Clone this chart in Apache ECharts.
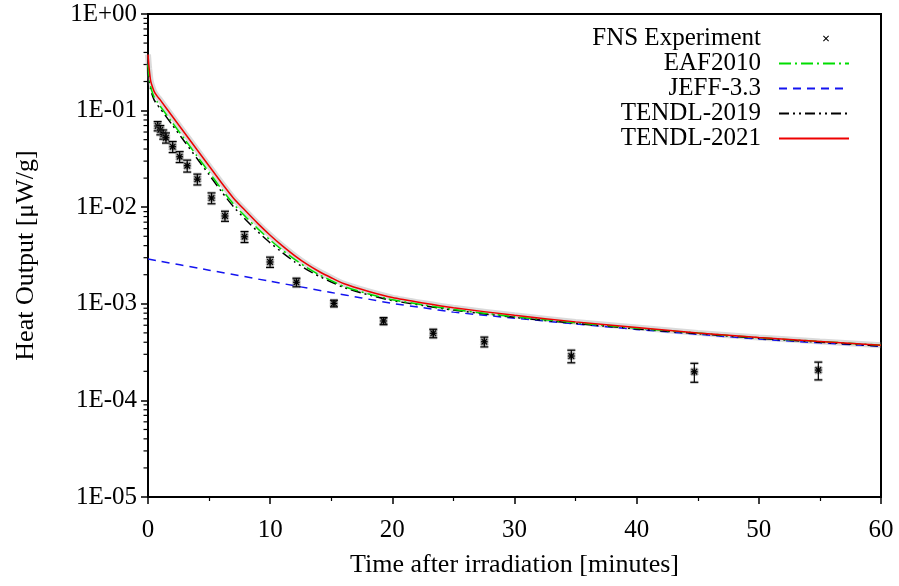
<!DOCTYPE html>
<html>
<head>
<meta charset="utf-8">
<script src="https://cdn.jsdelivr.net/npm/echarts@6/dist/echarts.min.js"></script>
<style>html,body{margin:0;padding:0;background:#fff}#c{width:899px;height:586px}</style>
</head>
<body>
<div id="c"></div>
<script>
// ---- data ----
const curveTime = [0,0.05,0.1,0.2,0.3,0.5,0.75,1,2,3,4,5,6,7,8,9,10,11,12,13,14,15,16,18,20,22.5,25,30,35,40,45,50,55,60];
const tendl2021 = [0.380,0.316,0.269,0.209,0.186,0.158,0.141,0.129,0.0869,0.0586,0.0395,0.0267,0.0180,0.0124,0.00912,0.00676,0.00513,0.00398,0.00316,0.00257,0.00216,0.00186,0.00162,0.00135,0.00116,0.00102,0.00091,0.00076,0.00065,0.00057,0.00050,0.000447,0.000407,0.000372];
const eaf2010 = [0.300,0.251,0.219,0.182,0.162,0.138,0.123,0.111,0.0748,0.0505,0.0340,0.0230,0.0155,0.0108,0.00794,0.00596,0.00457,0.00359,0.00288,0.00237,0.00200,0.00174,0.00152,0.00127,0.00110,0.000977,0.000875,0.000735,0.000637,0.000558,0.000498,0.000446,0.000407,0.000373];
const tendl2019 = [0.280,0.229,0.200,0.170,0.151,0.129,0.115,0.105,0.0706,0.0476,0.0321,0.0217,0.0146,0.0101,0.00741,0.00556,0.00427,0.00339,0.00272,0.00226,0.00193,0.00168,0.00148,0.00124,0.00108,0.00096,0.00086,0.000724,0.000627,0.00055,0.00049,0.000439,0.0004,0.000366];
const jeffTime = [0,5,10,15,17.5,20,22.5,25,30,35,40,45,50,55,60];
const jeff33 = [0.00291,0.00223,0.00171,0.00131,0.00115,0.00101,0.00091,0.00082,0.00071,0.00062,0.000543,0.000484,0.000431,0.000394,0.000363];
const expTime = [0.79,1.01,1.25,1.47,2.02,2.59,3.21,4.04,5.2,6.3,7.9,9.99,12.15,15.22,19.28,23.35,27.53,34.65,44.72,54.87];
const expValue = [0.0693,0.0630,0.0568,0.0524,0.0423,0.0333,0.0269,0.0195,0.01245,0.00811,0.00495,0.00271,0.00167,0.00101,0.000664,0.000495,0.000405,0.000288,0.000198,0.000206];
const expError = [0.0076,0.0069,0.0062,0.0063,0.0055,0.0043,0.0038,0.0025,0.0016,0.00097,0.00064,0.00033,0.00017,0.00008,0.000056,0.00005,0.000047,0.000043,0.000044,0.000043];
const xTickLabels = ['0','10','20','30','40','50','60'];
const yTickLabels = {'-5':'1E-05','-4':'1E-04','-3':'1E-03','-2':'1E-02','-1':'1E-01','0':'1E+00'};
const yMinorTickValues = [2e-5,3e-5,4e-5,5e-5,6e-5,7e-5,8e-5,9e-5,2e-4,3e-4,4e-4,5e-4,6e-4,7e-4,8e-4,9e-4,2e-3,3e-3,4e-3,5e-3,6e-3,7e-3,8e-3,9e-3,2e-2,3e-2,4e-2,5e-2,6e-2,7e-2,8e-2,9e-2,0.2,0.3,0.4,0.5,0.6,0.7,0.8,0.9];
const seriesNames = ['FNS Experiment','EAF2010','JEFF-3.3','TENDL-2019','TENDL-2021'];

const FONT = 'Liberation Serif';
const zip = (xs, ys) => xs.map((x, i) => [x, ys[i]]);
const expData = expTime.map((t, i) => [t, expValue[i], expError[i]]);

const chart = echarts.init(document.getElementById('c'), null, {renderer: 'canvas'});
// small "x" sample, pushed to the right part of the legend sample box by an empty sub-path
const crossPath = 'path://M-4,0.5 L-4,0.5 M0,0.12 L0.12,0 L0.5,0.38 L0.88,0 L1,0.12 L0.62,0.5 L1,0.88 L0.88,1 L0.5,0.62 L0.12,1 L0,0.88 L0.38,0.5 Z';
const noSymbol = {color: 'rgba(0,0,0,0)', opacity: 0, borderWidth: 0};

chart.setOption({
  animation: false,
  backgroundColor: '#fff',
  textStyle: {fontFamily: FONT},
  grid: {left: 148, right: 18, top: 14, bottom: 89, show: true, borderColor: '#000', borderWidth: 2, backgroundColor: 'transparent'},
  legend: {
    orient: 'vertical', right: 44, top: 21, align: 'right',
    itemWidth: 70, itemHeight: 6, itemGap: 0,
    textStyle: {fontFamily: FONT, fontSize: 25, color: '#000', lineHeight: 25, padding: [0, 13, 0, 0]},
    data: [
      {name: seriesNames[0], icon: crossPath, itemStyle: {color: '#000'}},
      {name: seriesNames[1], itemStyle: noSymbol},
      {name: seriesNames[2], itemStyle: noSymbol},
      {name: seriesNames[3], itemStyle: noSymbol},
      {name: seriesNames[4], itemStyle: noSymbol}
    ]
  },
  xAxis: {
    type: 'value', min: 0, max: 60, interval: 10,
    name: 'Time after irradiation [minutes]', nameLocation: 'middle', nameGap: 55,
    nameTextStyle: {fontFamily: FONT, fontSize: 26, color: '#000'},
    axisLine: {onZero: false, lineStyle: {color: '#000', width: 2}},
    axisTick: {inside: false, length: 7, lineStyle: {color: '#000', width: 1.5}},
    minorTick: {show: true, splitNumber: 2, length: 4, lineStyle: {color: '#000', width: 1.2}},
    axisLabel: {fontFamily: FONT, fontSize: 25, color: '#000', margin: 21,
      formatter: v => xTickLabels[Math.round(v / 10)]},
    splitLine: {show: false}
  },
  yAxis: {
    type: 'log', logBase: 10, min: 0.00001, max: 1, interval: 1,
    name: 'Heat Output [\u03bcW/g]', nameLocation: 'middle', nameGap: 109,
    nameTextStyle: {fontFamily: FONT, fontSize: 26, color: '#000'},
    axisLine: {lineStyle: {color: '#000', width: 2}},
    axisTick: {inside: false, length: 7, lineStyle: {color: '#000', width: 1.5}},
    axisLabel: {fontFamily: FONT, fontSize: 25, color: '#000', margin: 11,
      formatter: v => yTickLabels[String(Math.round(Math.log10(v)))]},
    splitLine: {show: false},
    minorTick: {show: false}
  },
  series: [
    {
      name: 'minorTicks', type: 'custom', silent: true, clip: false,
      data: yMinorTickValues.map(v => [0, v]),
      renderItem: function (params, api) {
        const p = api.coord([0, api.value(1)]);
        return {type: 'line', shape: {x1: p[0] - 4.5, y1: p[1], x2: p[0], y2: p[1]},
          style: {stroke: '#000', lineWidth: 1.2}};
      },
      z: 1
    },
    {
      name: 'band', type: 'line', silent: true, symbol: 'none', smooth: 0.2,
      data: zip(curveTime, tendl2021),
      lineStyle: {color: 'rgba(150,150,150,0.35)', width: 6}, z: 1
    },
    {
      name: seriesNames[2], type: 'line', symbol: 'none', smooth: 0.2,
      data: zip(jeffTime, jeff33),
      lineStyle: {color: '#1414f0', width: 1.5, type: [8, 6]}, itemStyle: {color: '#1414f0'}, z: 2
    },
    {
      name: seriesNames[3], type: 'line', symbol: 'none', smooth: 0.2,
      data: zip(curveTime, tendl2019),
      lineStyle: {color: '#000', width: 1.5, type: [10, 4, 2, 4, 2, 4]}, itemStyle: {color: '#000'}, z: 3
    },
    {
      name: seriesNames[1], type: 'line', symbol: 'none', smooth: 0.2,
      data: zip(curveTime, eaf2010),
      lineStyle: {color: '#00dd00', width: 1.5, type: [12, 4, 2, 4]}, itemStyle: {color: '#00dd00'}, z: 4
    },
    {
      name: seriesNames[4], type: 'line', symbol: 'none', smooth: 0.2,
      data: zip(curveTime, tendl2021),
      lineStyle: {color: '#ee0000', width: 1.5}, itemStyle: {color: '#ee0000'}, z: 5
    },
    {
      name: seriesNames[0], type: 'custom', clip: true,
      itemStyle: {color: '#000'},
      encode: {x: 0, y: 1},
      data: expData,
      renderItem: function (params, api) {
        const t = api.value(0), v = api.value(1), e = api.value(2);
        const c = api.coord([t, v]);
        const hi = api.coord([t, v + e]);
        const lo = api.coord([t, v - e]);
        const cap = 4, m = 3.5;
        const L = (x1, y1, x2, y2, style) => ({type: 'line', shape: {x1, y1, x2, y2}, style});
        const halo = {stroke: 'rgba(110,110,110,0.5)', lineWidth: 3};
        const ink = {stroke: '#000', lineWidth: 1.2};
        const star = (st, s) => [
          L(c[0] - s, c[1] - s, c[0] + s, c[1] + s, st),
          L(c[0] - s, c[1] + s, c[0] + s, c[1] - s, st),
          L(c[0] - s * 1.2, c[1], c[0] + s * 1.2, c[1], st),
          L(c[0], c[1] - s * 1.2, c[0], c[1] + s * 1.2, st)
        ];
        return {type: 'group', children: [].concat(
          star(halo, m),
          [L(hi[0] - cap, hi[1], hi[0] + cap, hi[1], {stroke: 'rgba(110,110,110,0.4)', lineWidth: 3}),
           L(lo[0] - cap, lo[1], lo[0] + cap, lo[1], {stroke: 'rgba(110,110,110,0.4)', lineWidth: 3})],
          [L(hi[0], hi[1], lo[0], lo[1], ink),
           L(hi[0] - cap, hi[1], hi[0] + cap, hi[1], ink),
           L(lo[0] - cap, lo[1], lo[0] + cap, lo[1], ink)],
          star(ink, m * 0.8)
        )};
      },
      z: 6
    }
  ]
});
</script>
</body>
</html>
